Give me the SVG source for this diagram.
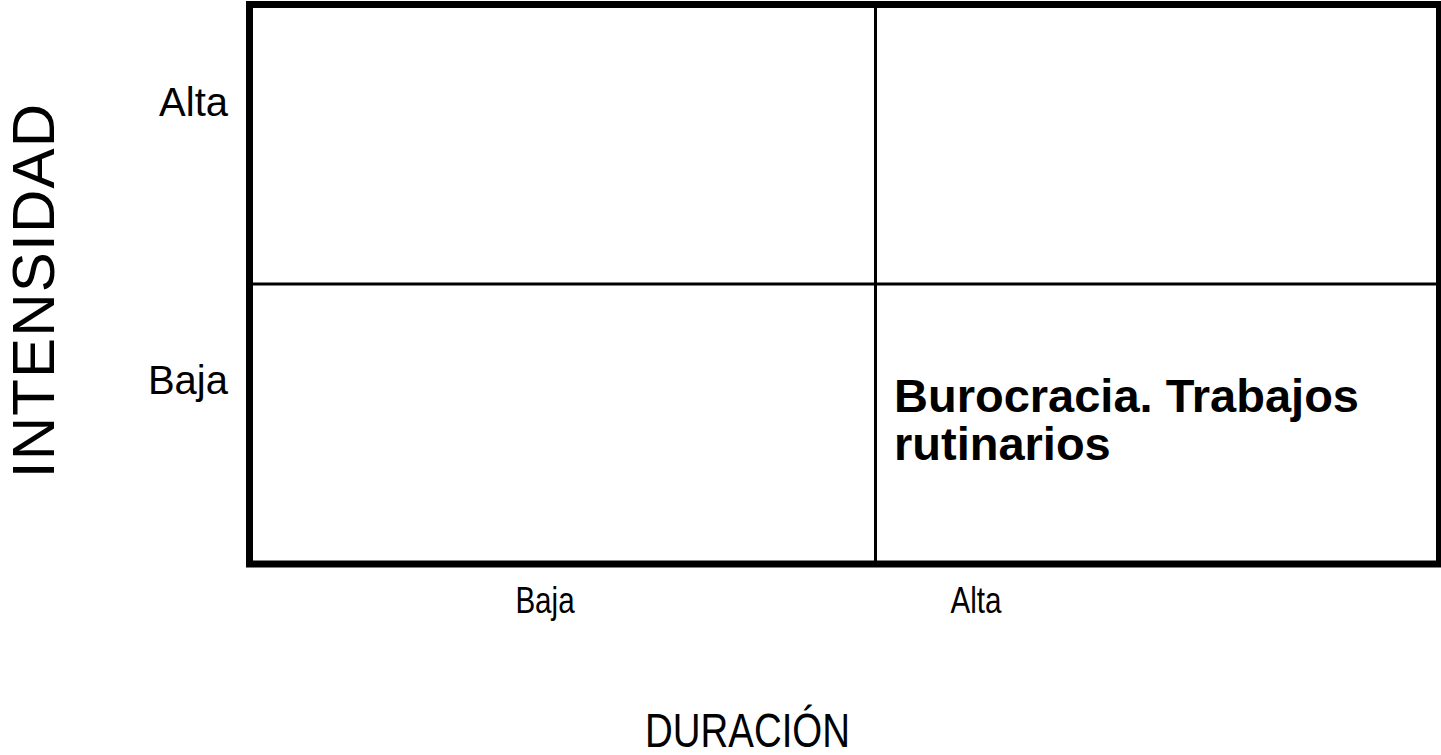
<svg xmlns="http://www.w3.org/2000/svg" width="1441" height="755" viewBox="0 0 1441 755">
<style>
.t{font-family:"Liberation Sans",Arial,sans-serif;fill:#000}
.b{font-weight:bold}
</style>
<rect width="1441" height="755" fill="#fff"/>
<g id="grid">
<rect x="249.5" y="4.5" width="1190" height="559.5" fill="none" stroke="#000" stroke-width="7"/>
<line x1="875.5" y1="4.5" x2="875.5" y2="564" stroke="#000" stroke-width="3"/>
<line x1="249.5" y1="284" x2="1439.5" y2="284" stroke="#000" stroke-width="3"/>
</g>
<g id="labels">
<text class="t" x="228" y="116" font-size="40" text-anchor="end">Alta</text>
<text class="t" x="228" y="394" font-size="40" text-anchor="end">Baja</text>
<text class="t" transform="translate(545,613) scale(0.8,1)" font-size="37" text-anchor="middle">Baja</text>
<text class="t" transform="translate(976,613) scale(0.8,1)" font-size="37" text-anchor="middle">Alta</text>
<text class="t" transform="translate(747.5,747) scale(0.785,1)" font-size="49" text-anchor="middle">DURACIÓN</text>
<text class="t" transform="translate(54,290.5) rotate(-90)" font-size="60" letter-spacing="1.2" text-anchor="middle">INTENSIDAD</text>
</g>
<g id="cell-baja-alta">
<text class="t b" x="894" y="412" font-size="47">Burocracia. Trabajos</text>
<text class="t b" x="894" y="460" font-size="47">rutinarios</text>
</g>
</svg>
